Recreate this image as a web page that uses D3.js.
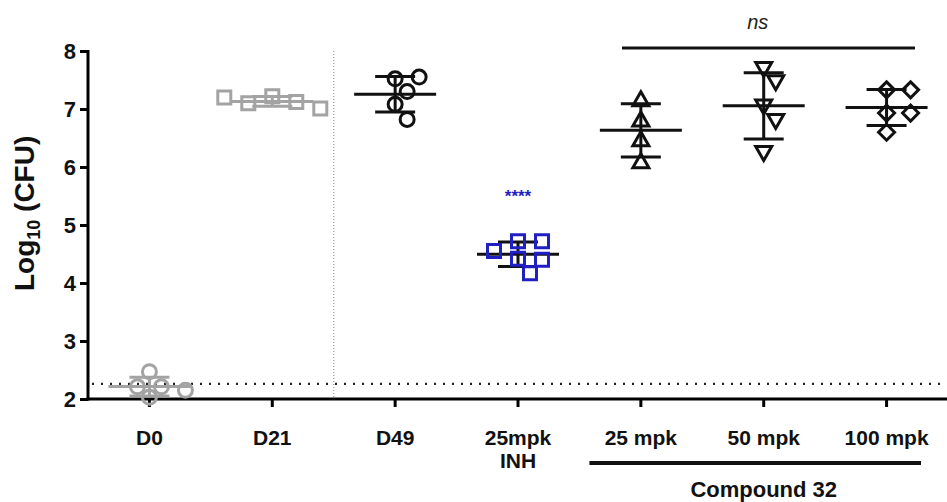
<!DOCTYPE html>
<meta charset="utf-8">
<html>
<head>
<style>
  body { margin: 0; background: #fff; }
  svg { display: block; }
  text { font-family: Arial, "Liberation Sans", sans-serif; }
</style>
</head>
<body>
<div id="chart"></div>
<script src="https://d3js.org/d3.v7.min.js"></script>
<script>

// groups on the x axis
var groups = ["D0", "D21", "D49", "INH", "C25", "C50", "C100"];
var groupLabels = [["D0"], ["D21"], ["D49"], ["25mpk", "INH"], ["25 mpk"], ["50 mpk"], ["100 mpk"]];
var groupShapes = ["circle", "square", "circle", "square", "triUp", "triDown", "diamond"];
var groupColors = ["#a3a3a3", "#a3a3a3", "#111", "#1f1fc4", "#111", "#111", "#111"];

// log10 CFU per mouse
var valsD0   = [2.47, 2.21, 2.21, 2.03, 2.15];
var valsD21  = [7.22, 7.12, 7.10, 7.01, 7.20];
var valsD49  = [7.52, 7.55, 7.30, 7.08, 6.82];
var valsINH  = [4.72, 4.72, 4.55, 4.42, 4.40, 4.17];
var valsC25  = [7.16, 6.81, 6.47, 6.09];
var valsC50  = [7.70, 7.47, 7.05, 6.80, 6.25];
var valsC100 = [7.33, 7.33, 6.93, 6.93, 6.60];
var allVals = [valsD0, valsD21, valsD49, valsINH, valsC25, valsC50, valsC100];

var yTicks = [2, 3, 4, 5, 6, 7, 8];
var detectionLimit = 2.26;

var width = 947, height = 502;
var svg = d3.select("#chart").append("svg")
    .attr("width", width)
    .attr("height", height);

var x = d3.scaleBand().domain(groups).range([88, 948]);
var y = d3.scaleLinear().domain([2, 8]).range([399, 51]);
var cx = function(g) { return x(g) + x.bandwidth() / 2; };

// y axis
var yAxis = svg.append("g")
    .attr("transform", "translate(88,0)")
    .call(d3.axisLeft(y).tickValues(yTicks).tickFormat(d3.format("d")).tickSize(8).tickPadding(4));
yAxis.select(".domain").attr("stroke-width", 3).attr("d", "M0," + (y(8) - 1) + "V" + (y(2) + 1.5));
yAxis.selectAll(".tick line").attr("stroke-width", 3);
yAxis.selectAll(".tick text").attr("font-size", 22).attr("font-weight", "bold").attr("fill", "#111");

// x axis
var xAxis = svg.append("g")
    .attr("transform", "translate(0,399)")
    .call(d3.axisBottom(x).tickSize(8).tickFormat(""));
xAxis.select(".domain").attr("stroke-width", 3).attr("d", "M86.5,0H947");
xAxis.selectAll(".tick line").attr("stroke-width", 3);

// x labels
groups.forEach(function(g, i) {
  var t = svg.append("text")
      .attr("x", cx(g))
      .attr("y", 445)
      .attr("text-anchor", "middle")
      .attr("font-size", 21)
      .attr("font-weight", "bold")
      .attr("fill", "#111");
  groupLabels[i].forEach(function(s, j) {
    t.append("tspan").attr("x", cx(g)).attr("dy", j ? 23 : 0).text(s);
  });
});

// y title
var yt = svg.append("text")
    .attr("transform", "translate(34," + y(5.2) + ") rotate(-90)")
    .attr("text-anchor", "middle")
    .attr("font-size", 28)
    .attr("font-weight", "bold")
    .attr("fill", "#111");
yt.append("tspan").text("Log");
yt.append("tspan").attr("font-size", 18).attr("dy", 6).text("10");
yt.append("tspan").attr("dy", -6).text(" (CFU)");

// separator and detection limit
var sepX = (cx("D21") + cx("D49")) / 2;
svg.append("line")
    .attr("x1", sepX).attr("x2", sepX)
    .attr("y1", y(8)).attr("y2", y(2))
    .attr("stroke", "#999").attr("stroke-width", 1.2)
    .attr("stroke-dasharray", "1,2");
svg.append("line")
    .attr("x1", 92).attr("x2", 947)
    .attr("y1", y(detectionLimit)).attr("y2", y(detectionLimit))
    .attr("stroke", "#222").attr("stroke-width", 2.4)
    .attr("stroke-dasharray", "2,7");

// simple beeswarm so that markers do not sit on top of each other
function swarm(vals, r) {
  var placed = [];
  vals.forEach(function(v) {
    var py = y(v), dx = 0;
    var steps = [0, 1, -1, 2, -2, 3, -3, 4, -4];
    for (var s = 0; s < steps.length; s++) {
      dx = steps[s] * r * 1.6;
      var ok = placed.every(function(p) {
        return (dx - p.dx) * (dx - p.dx) + (py - p.y) * (py - p.y) >= (2.1 * r) * (2.1 * r);
      });
      if (ok) break;
    }
    placed.push({ v: v, dx: dx, y: py });
  });
  return placed;
}

var r = 7.5;
function markerPath(shape) {
  if (shape === "circle") return d3.symbol(d3.symbolCircle, Math.PI * 7 * 7)();
  if (shape === "square") return d3.symbol(d3.symbolSquare, 13 * 13)();
  if (shape === "diamond") return "M0,-8L8,0L0,8L-8,0Z";
  if (shape === "triUp") return "M0,-8L8,6L-8,6Z";
  return "M0,8L8,-6L-8,-6Z";
}

groups.forEach(function(g, i) {
  var vals = allVals[i];
  var m = d3.mean(vals), sd = d3.deviation(vals);
  var c = cx(g);
  var col = groupColors[i];
  var barCol = g === "INH" ? "#111" : col;
  var gg = svg.append("g");

  // mean and SD
  gg.append("line").attr("x1", c - 41).attr("x2", c + 41)
      .attr("y1", y(m)).attr("y2", y(m))
      .attr("stroke", barCol).attr("stroke-width", 3);
  gg.append("line").attr("x1", c).attr("x2", c)
      .attr("y1", y(m + sd)).attr("y2", y(m - sd))
      .attr("stroke", barCol).attr("stroke-width", 3);
  [m + sd, m - sd].forEach(function(e) {
    gg.append("line").attr("x1", c - 20).attr("x2", c + 20)
        .attr("y1", y(e)).attr("y2", y(e))
        .attr("stroke", barCol).attr("stroke-width", 3);
  });

  // points
  gg.selectAll("path.pt")
    .data(swarm(vals, r))
    .enter().append("path")
      .attr("class", "pt")
      .attr("d", markerPath(groupShapes[i]))
      .attr("transform", function(d) { return "translate(" + (c + d.dx) + "," + d.y + ")"; })
      .attr("fill", "none")
      .attr("stroke", col)
      .attr("stroke-width", 3);
});

// significance
svg.append("text")
    .attr("x", cx("INH")).attr("y", y(5.4))
    .attr("text-anchor", "middle")
    .attr("font-size", 17).attr("font-weight", "bold")
    .attr("fill", "#1f1fc4")
    .text("****");

svg.append("line")
    .attr("x1", 622).attr("x2", 915)
    .attr("y1", 48).attr("y2", 48)
    .attr("stroke", "#111").attr("stroke-width", 3);
svg.append("text")
    .attr("x", cx("C50") - 6).attr("y", 29)
    .attr("text-anchor", "middle")
    .attr("font-size", 20).attr("font-style", "italic")
    .attr("fill", "#222")
    .text("ns");

// compound bracket
svg.append("line")
    .attr("x1", x("C25") + 10).attr("x2", x("C100") + x.bandwidth() - 27)
    .attr("y1", 463).attr("y2", 463)
    .attr("stroke", "#111").attr("stroke-width", 4);
svg.append("text")
    .attr("x", cx("C50")).attr("y", 497)
    .attr("text-anchor", "middle")
    .attr("font-family", "'Open Sans', sans-serif")
    .attr("font-size", 22).attr("font-weight", 600)
    .attr("fill", "#111")
    .text("Compound 32");

</script>
</body>
</html>
